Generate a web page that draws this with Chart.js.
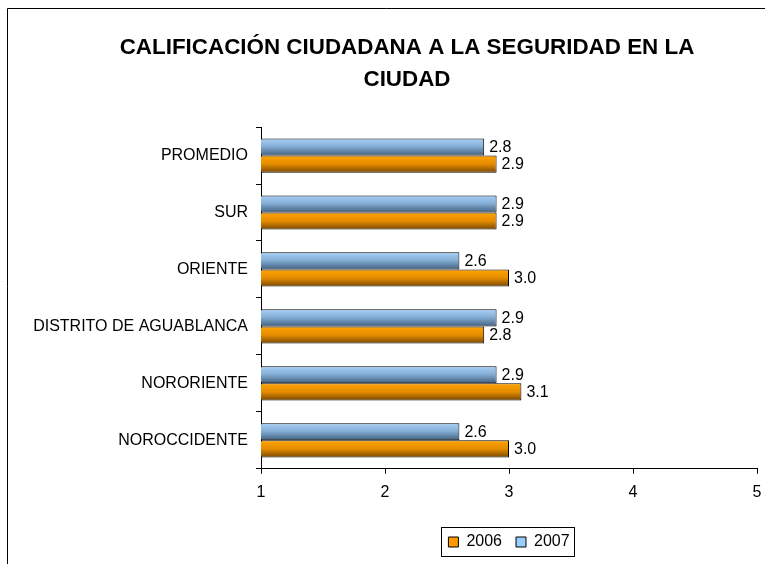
<!DOCTYPE html>
<html>
<head>
<meta charset="utf-8">
<script src="https://cdn.jsdelivr.net/npm/chart.js@4/dist/chart.umd.min.js"></script>
<style>
html,body{margin:0;padding:0;background:#fff;overflow:hidden;}
canvas{display:block;}
</style>
</head>
<body>
<canvas id="c" width="765" height="564"></canvas>
<script>
const categories = ["PROMEDIO", "SUR", "ORIENTE", "DISTRITO DE AGUABLANCA", "NORORIENTE", "NOROCCIDENTE"];
const values2007 = [2.8, 2.9, 2.6, 2.9, 2.9, 2.6];
const values2006 = [2.9, 2.9, 3.0, 2.8, 3.1, 3.0];
const xTicks = [1, 2, 3, 4, 5];
const titleLines = ["CALIFICACIÓN CIUDADANA A LA SEGURIDAD EN LA", "CIUDAD"];

const FONT = "'Liberation Sans', Arial, sans-serif";

const gradStops = {
  "2007": [[0, "#a6d0f7"], [0.45, "#86b0d8"], [1, "#42607e"]],
  "2006": [[0, "#ffa300"], [0.5, "#e58c00"], [1, "#7a4800"]]
};

const gradientPlugin = {
  id: "gradientBars",
  afterLayout(chart) {
    if (chart.scales.y) chart.scales.y.left = 0;
  },
  beforeDatasetsDraw(chart) {
    const ctx = chart.ctx;
    chart.data.datasets.forEach((ds, di) => {
      const meta = chart.getDatasetMeta(di);
      meta.data.forEach(el => {
        const top = el.y - el.height / 2, bot = el.y + el.height / 2;
        const g = ctx.createLinearGradient(0, top, 0, bot);
        gradStops[ds.label].forEach(s => g.addColorStop(s[0], s[1]));
        el.options.backgroundColor = g;
      });
    });
  }
};

const labelPlugin = {
  id: "valueLabels",
  afterDatasetsDraw(chart) {
    const ctx = chart.ctx;
    ctx.save();
    ctx.font = "16px " + FONT;
    ctx.fillStyle = "#000";
    ctx.textAlign = "left";
    ctx.textBaseline = "middle";
    chart.data.datasets.forEach((ds, di) => {
      const meta = chart.getDatasetMeta(di);
      meta.data.forEach((el, i) => {
        ctx.fillText(ds.data[i].toFixed(1), el.x + 5, el.y + 1);
      });
    });
    ctx.restore();
  }
};

const framePlugin = {
  id: "frame",
  afterDraw(chart) {
    const ctx = chart.ctx;
    ctx.save();
    ctx.strokeStyle = "#000";
    ctx.lineWidth = 1;
    ctx.beginPath();
    ctx.moveTo(7.5, 564);
    ctx.lineTo(7.5, 8.5);
    ctx.lineTo(765, 8.5);
    ctx.stroke();
    const lg = chart.legend;
    if (lg && lg.legendHitBoxes && lg.legendHitBoxes.length) {
      let l = Infinity, r = -Infinity, t = Infinity, b = -Infinity;
      lg.legendHitBoxes.forEach(h => {
        l = Math.min(l, h.left); r = Math.max(r, h.left + h.width);
        t = Math.min(t, h.top); b = Math.max(b, h.top + h.height);
      });
      const cy = (t + b) / 2;
      ctx.strokeRect(Math.round(l - 7) + 0.5, Math.round(cy - 15) + 0.5, Math.round(r - l + 12), 29);
    }
    ctx.restore();
  }
};

new Chart(document.getElementById("c"), {
  type: "bar",
  data: {
    labels: categories,
    datasets: [
      { label: "2007", data: values2007, backgroundColor: () => "#99ccff", borderColor: "#000", borderWidth: 1, borderSkipped: false },
      { label: "2006", data: values2006, backgroundColor: () => "#ff9900", borderColor: "#000", borderWidth: 1, borderSkipped: false }
    ]
  },
  options: {
    indexAxis: "y",
    responsive: false,
    animation: false,
    devicePixelRatio: 1,
    layout: { padding: { left: 49, right: 0, top: 0, bottom: 4 } },
    datasets: { bar: { categoryPercentage: 0.6, barPercentage: 1.0 } },
    scales: {
      x: {
        min: 1, max: 5,
        afterBuildTicks(scale) { scale.ticks = xTicks.map(v => ({ value: v })); },
        afterFit(scale) { scale.height += 9; scale.paddingRight = 8; },
        grid: { drawOnChartArea: false, drawTicks: true, tickLength: 5, color: "#000" },
        border: { display: true, color: "#000", width: 1 },
        ticks: { color: "#000", font: { family: FONT, size: 16 }, padding: 9 }
      },
      y: {
        afterFit(scale) { scale.width = 212; },
        grid: { drawOnChartArea: false, drawTicks: true, tickLength: 5, color: "#000", offset: true },
        border: { display: true, color: "#000", width: 1 },
        ticks: { color: "#000", font: { family: FONT, size: 16 }, padding: 8 }
      }
    },
    plugins: {
      title: {
        display: true,
        text: titleLines,
        color: "#000",
        font: { family: FONT, size: 22.4, weight: "bold", lineHeight: 1.43 },
        padding: { top: 32, bottom: 31 }
      },
      legend: {
        display: true,
        position: "bottom",
        fullSize: false,
        reverse: true,
        labels: {
          color: "#000",
          boxWidth: 10, boxHeight: 10,
          font: { family: FONT, size: 16 },
          padding: 14
        }
      },
      tooltip: { enabled: false }
    }
  },
  plugins: [gradientPlugin, labelPlugin, framePlugin]
});
</script>
</body>
</html>
